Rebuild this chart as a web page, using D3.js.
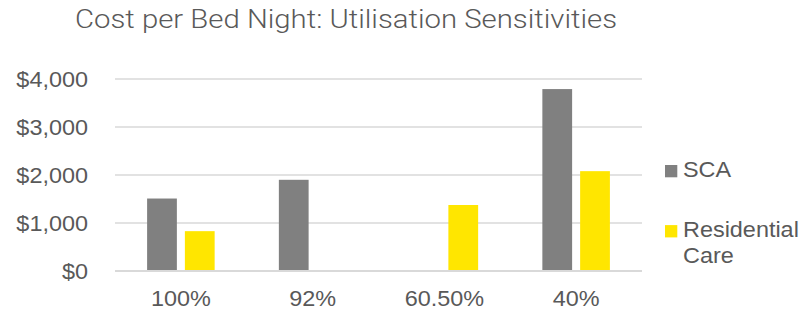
<!DOCTYPE html>
<html>
<head>
<meta charset="utf-8">
<script src="https://cdn.jsdelivr.net/npm/d3@7/dist/d3.min.js"></script>
<style>
  html, body { margin: 0; padding: 0; background: #fff; }
  svg { display: block; }
  text { font-family: "Liberation Sans", Arial, sans-serif; fill: #595959; }
</style>
</head>
<body>
<svg id="chart" width="803" height="310"></svg>
<script>
const title = "Cost per Bed Night: Utilisation Sensitivities";
const categories = ["100%", "92%", "60.50%", "40%"];
const seriesNames = ["SCA", "Residential Care"];
const scaValues = [1510, 1900, null, 3790];
const residentialValues = [830, null, 1375, 2080];
const yTicks = [0, 1000, 2000, 3000, 4000];
const colors = ["#808080", "#FFE600"];

const seriesValues = [scaValues, residentialValues];
const svg = d3.select("#chart");
const W = 803, H = 310;
const margin = { left: 115, right: 161, top: 79, bottom: 39 };
const plotW = W - margin.left - margin.right;
const plotH = H - margin.top - margin.bottom;
const FS = "21.5px";
const SX = 1.09;

const x0 = d3.scaleBand().domain(categories).range([margin.left, margin.left + plotW]).paddingInner(0).paddingOuter(0);
const x1 = d3.scaleBand().domain(seriesNames).range([0, x0.bandwidth()]).paddingInner(0.212).paddingOuter(0.85);
const y = d3.scaleLinear().domain([0, 4000]).range([margin.top + plotH, margin.top]);

// Title
svg.append("text")
  .attr("x", 75).attr("y", 27.5)
  .attr("textLength", 542).attr("lengthAdjust", "spacingAndGlyphs")
  .style("font-family", "Roboto, 'Open Sans', sans-serif")
  .style("font-weight", 300)
  .style("font-size", "25px")
  .style("fill", "#595959")
  .text(title);

// Gridlines
svg.append("g").selectAll("line").data(yTicks.filter(d => d !== 0)).join("line")
  .attr("x1", margin.left).attr("x2", margin.left + plotW)
  .attr("y1", d => y(d)).attr("y2", d => y(d))
  .attr("stroke", "#d9d9d9").attr("stroke-width", 1.5);

// Y axis labels
const yAxis = d3.axisLeft(y).tickValues(yTicks).tickSize(0).tickPadding(0)
  .tickFormat(d => "$" + d3.format(",")(d));
const yg = svg.append("g").attr("transform", `translate(88,0)`).call(yAxis);
yg.select(".domain").remove();
yg.selectAll("text")
  .style("font-family", "'Liberation Sans', Arial, sans-serif")
  .style("font-size", FS)
  .attr("fill", "#595959").attr("x", 0).attr("dy", "0.36em")
  .attr("transform", `scale(${SX},1)`);

// Bars
const groups = svg.append("g").selectAll("g").data(categories).join("g")
  .attr("transform", d => `translate(${x0(d)},0)`);
groups.selectAll("rect")
  .data((c, i) => seriesNames.map((s, j) => ({ s, j, v: seriesValues[j][i] })).filter(d => d.v != null))
  .join("rect")
  .attr("x", d => x1(d.s))
  .attr("width", x1.bandwidth())
  .attr("y", d => y(d.v))
  .attr("height", d => y(0) - y(d.v))
  .attr("fill", d => colors[d.j]);

// Baseline axis
svg.append("line")
  .attr("x1", margin.left).attr("x2", margin.left + plotW)
  .attr("y1", y(0)).attr("y2", y(0))
  .attr("stroke", "#d9d9d9").attr("stroke-width", 2);

// X axis labels
const xAxis = d3.axisBottom(x0).tickSize(0).tickPadding(0);
const xg = svg.append("g").attr("transform", `translate(0,${y(0) + 35})`).call(xAxis);
xg.select(".domain").remove();
xg.selectAll("text")
  .style("font-family", "'Liberation Sans', Arial, sans-serif")
  .style("font-size", FS)
  .attr("fill", "#595959").attr("y", 0).attr("dy", 0)
  .attr("transform", `scale(${SX},1)`);

// Legend
const legendItems = [
  { name: "SCA", lines: ["SCA"], color: colors[0], y: 177.3 },
  { name: "Residential Care", lines: ["Residential", "Care"], color: colors[1], y: 237.4 }
];
const lg = svg.append("g");
legendItems.forEach(item => {
  lg.append("rect").attr("x", 665).attr("y", item.y - 12.3).attr("width", 12.3).attr("height", 12.3).attr("fill", item.color);
  const t = lg.append("g").attr("transform", `translate(683,${item.y}) scale(${SX},1)`)
    .append("text").style("font-size", FS);
  item.lines.forEach((ln, k) => {
    t.append("tspan").attr("x", 0).attr("y", k * 25.3).text(ln);
  });
});
</script>
</body>
</html>
